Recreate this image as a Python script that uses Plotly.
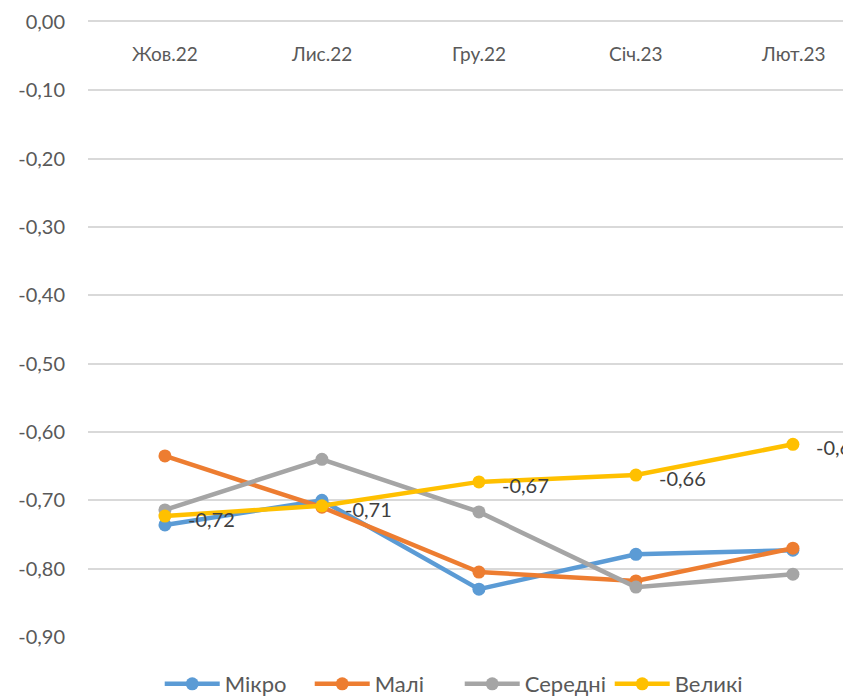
import plotly.graph_objects as go

categories = ["Жов.22", "Лис.22", "Гру.22", "Січ.23", "Лют.23"]
mikro = [-0.736, -0.700, -0.830, -0.779, -0.773]
mali = [-0.635, -0.710, -0.805, -0.818, -0.770]
seredni = [-0.714, -0.640, -0.717, -0.827, -0.808]
velyki = [-0.723, -0.708, -0.673, -0.663, -0.618]
y_tick_vals = [0.0, -0.1, -0.2, -0.3, -0.4, -0.5, -0.6, -0.7, -0.8, -0.9]
y_tick_text = ["0,00", "-0,10", "-0,20", "-0,30", "-0,40", "-0,50", "-0,60", "-0,70", "-0,80", "-0,90"]

series = [
    ("Мікро", mikro, "#5B9BD5"),
    ("Малі", mali, "#ED7D31"),
    ("Середні", seredni, "#A5A5A5"),
    ("Великі", velyki, "#FFC000"),
]

FONT = "Lato"
fig = go.Figure()
for name, vals, color in series:
    fig.add_trace(go.Scatter(
        x=categories, y=vals, name=name, mode="lines+markers",
        line=dict(color=color, width=4.5),
        marker=dict(color=color, size=13),
        cliponaxis=False,
    ))

# category labels just below the zero line (Excel style)
for cat in categories:
    fig.add_annotation(
        x=cat, y=0, xref="x", yref="y", text=cat, showarrow=False,
        xanchor="center", yanchor="middle", yshift=-31,
        font=dict(family=FONT, size=19, color="#595959"),
    )

# data labels for "Великі"
for cat, v in zip(categories, velyki):
    fig.add_annotation(
        x=cat, y=v, xref="x", yref="y",
        text=f"{v:.2f}".replace(".", ","),
        showarrow=False, xanchor="left", yanchor="middle",
        xshift=21, yshift=-3,
        font=dict(family=FONT, size=20, color="#404040"),
    )

# page body has an 8px default margin, so the figure is sized/offset to compensate
fig.update_layout(
    width=843, height=691,
    margin=dict(l=80, r=0, t=14, b=62, autoexpand=False),
    plot_bgcolor="white", paper_bgcolor="white",
    font=dict(family=FONT, size=20, color="#595959"),
    showlegend=True,
    legend=dict(orientation="h", x=0.094, xanchor="left", y=-0.0764, yanchor="middle",
                font=dict(family=FONT, size=22, color="#595959"), itemwidth=55,
                entrywidth=80, entrywidthmode="pixels",
                traceorder="normal"),
    xaxis=dict(type="category", range=[-0.49, 4.37], side="top", automargin=False,
               showticklabels=False,
               showgrid=False, showline=True, linecolor="#D9D9D9", linewidth=1.5,
               ticks=""),
    yaxis=dict(range=[-0.9, 0.0001], tickvals=y_tick_vals, ticktext=y_tick_text,
               automargin=False,
               showgrid=True, gridcolor="#D9D9D9", gridwidth=1.5, zeroline=False,
               showline=False, ticks="", ticklabelstandoff=22,
               tickfont=dict(family=FONT, size=20, color="#595959")),
)
fig.write_html("out.html")
